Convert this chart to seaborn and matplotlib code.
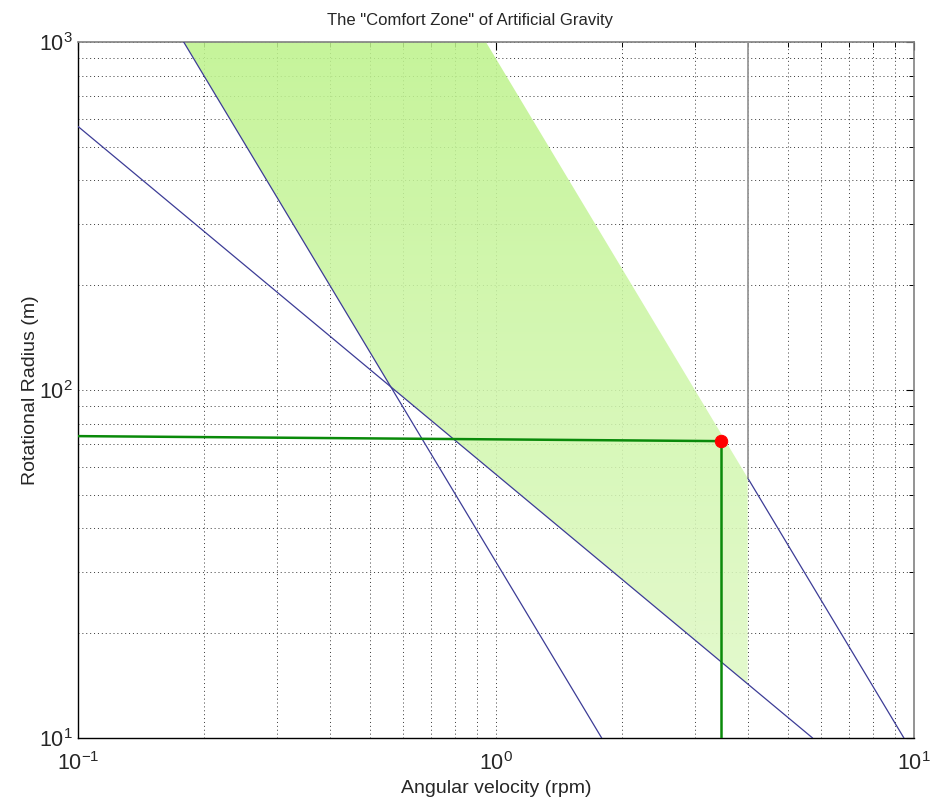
import numpy as np
import pandas as pd
import matplotlib
matplotlib.use("Agg")
import matplotlib.pyplot as plt
from matplotlib.ticker import LogLocator, LogFormatterSciNotation, NullFormatter
import seaborn as sns

# ---- data ----
# minimum-acceleration line (slope -2 in log-log)
min_acc_rpm = [0.179, 1.79]
min_acc_r = [1000.0, 10.0]
# tangential-velocity line (slope -1)
vel_rpm = [0.1, 5.72]
vel_r = [572.0, 10.0]
# maximum-acceleration (1 g) line, drawn right of the 4 rpm limit
max_acc_rpm = [4.0, 9.46]
max_acc_r = [55.9, 10.0]
# 4 rpm limit (grey vertical)
limit_rpm = [4.0, 4.0]
limit_r = [1000.0, 55.9]
# comfort-zone polygon
zone_rpm = [0.179, 0.946, 4.0, 4.0, 0.560]
zone_r = [1000.0, 1000.0, 55.9, 14.3, 102.1]
# design point and its guide lines
design_h_rpm = [0.1, 3.45]
design_h_r = [73.7, 71.3]
design_v_rpm = [3.46, 3.46]
design_v_r = [71.3, 10.0]
point_rpm = [3.45]
point_r = [71.3]

sns.set_style("white")
plt.rcParams["font.family"] = ["Liberation Sans", "DejaVu Sans"]
plt.rcParams["mathtext.fontset"] = "custom"
plt.rcParams["mathtext.rm"] = "Liberation Sans"
plt.rcParams["mathtext.it"] = "Liberation Sans:italic"
plt.rcParams["mathtext.bf"] = "Liberation Sans:bold"
plt.rcParams["axes.unicode_minus"] = False

fig = plt.figure(figsize=(9.34, 7.98), dpi=100)
fig.patch.set_facecolor("white")
ax = fig.add_axes([78 / 934, 1 - 738 / 798, (914 - 78) / 934, (738 - 42) / 798])
ax.set_xscale("log")
ax.set_yscale("log")
ax.set_xlim(0.1, 10)
ax.set_ylim(10, 1000)

# grid (drawn below the fill)
ax.set_axisbelow(True)
grid_kw = dict(color="#383838", linestyle=(0, (1, 3)), linewidth=0.7)
ax.grid(True, which="major", **grid_kw)
ax.grid(True, which="minor", **grid_kw)

# comfort zone fill with vertical gradient
poly = ax.fill(zone_rpm, zone_r, facecolor="none", edgecolor="none", zorder=2)[0]
top = np.array([190, 243, 140]) / 255.0
bot = np.array([226, 250, 202]) / 255.0
t = np.linspace(0, 1, 256)[:, None]
grad = (top[None, :] * (1 - t) + bot[None, :] * t)[:, None, :]
grad = np.repeat(grad, 2, axis=1)
img = ax.imshow(grad, extent=[0, 1, 0, 1], transform=ax.transAxes,
                aspect="auto", origin="upper", alpha=0.87, zorder=2,
                interpolation="bilinear")
img.set_clip_path(poly)

blue = "#3c3c96"
line_kw = dict(sort=False, estimator=None)
df_min = pd.DataFrame({"rpm": min_acc_rpm, "r": min_acc_r})
df_vel = pd.DataFrame({"rpm": vel_rpm, "r": vel_r})
df_max = pd.DataFrame({"rpm": max_acc_rpm, "r": max_acc_r})
sns.lineplot(data=df_min, x="rpm", y="r", ax=ax, color=blue, linewidth=0.9, zorder=3, **line_kw)
sns.lineplot(data=df_vel, x="rpm", y="r", ax=ax, color=blue, linewidth=0.9, zorder=3, **line_kw)
sns.lineplot(data=df_max, x="rpm", y="r", ax=ax, color=blue, linewidth=0.9, zorder=3, **line_kw)
sns.lineplot(x=limit_rpm, y=limit_r, ax=ax, color="#999999", linewidth=1.3, zorder=3, **line_kw)

green = "#0a8a0a"
sns.lineplot(x=design_h_rpm, y=design_h_r, ax=ax, color=green, linewidth=1.8, zorder=4, **line_kw)
sns.lineplot(x=design_v_rpm, y=design_v_r, ax=ax, color=green, linewidth=1.8, zorder=4, **line_kw)
sns.scatterplot(x=point_rpm, y=point_r, ax=ax, color="#ff0000", s=80, edgecolor="#ff0000",
                zorder=5, clip_on=False)

# ticks
for axis in (ax.xaxis, ax.yaxis):
    axis.set_major_locator(LogLocator(base=10, numticks=10))
    axis.set_minor_locator(LogLocator(base=10, subs=np.arange(2, 10), numticks=100))
    axis.set_major_formatter(LogFormatterSciNotation())
    axis.set_minor_formatter(NullFormatter())
ax.tick_params(which="both", direction="in", top=True, right=True, color="black")
ax.tick_params(which="major", length=6, width=0.8, labelsize=15.5)
ax.tick_params(which="minor", length=3.5, width=0.7)
ax.tick_params(axis="x", which="major", pad=10)
ax.tick_params(axis="y", which="major", pad=4)

for side in ("left", "bottom"):
    ax.spines[side].set_color("black")
    ax.spines[side].set_linewidth(1.0)
for side in ("top", "right"):
    ax.spines[side].set_color("#808080")
    ax.spines[side].set_linewidth(1.2)

ax.set_xlabel("Angular velocity (rpm)", fontsize=14, labelpad=4)
ax.set_ylabel("Rotational Radius (m)", fontsize=14, labelpad=0)
ax.set_title('The "Comfort Zone" of Artificial Gravity', fontsize=12, pad=12, x=0.469)

fig.savefig("out.png", dpi=100, facecolor="white")
